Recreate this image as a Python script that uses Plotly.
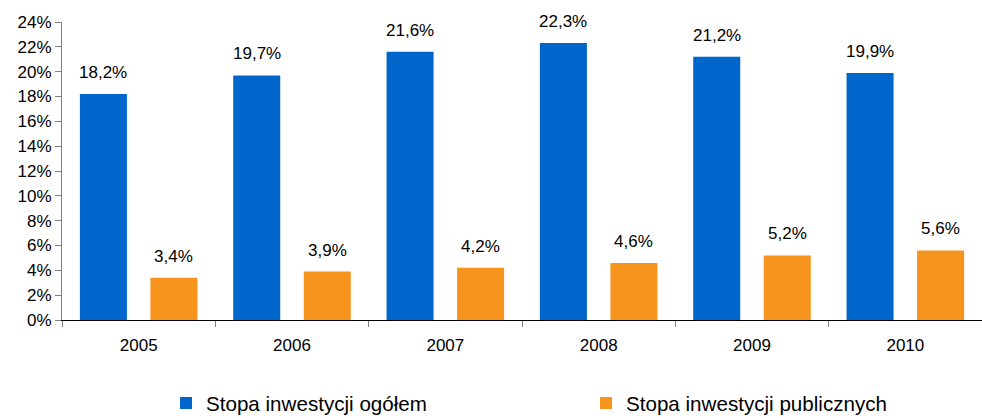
import plotly.graph_objects as go

years = ["2005", "2006", "2007", "2008", "2009", "2010"]
total_rate = [18.2, 19.7, 21.6, 22.3, 21.2, 19.9]
public_rate = [3.4, 3.9, 4.2, 4.6, 5.2, 5.6]
series_names = ["Stopa inwestycji ogółem", "Stopa inwestycji publicznych"]
y_ticks = list(range(0, 25, 2))

BLUE = "#0066CC"
ORANGE = "#F7941E"
FONT = "Liberation Sans, Arial, sans-serif"


def pct(v):
    return f"{v:.1f}".replace(".", ",") + "%"


fig = go.Figure()
fig.add_trace(go.Bar(x=years, y=total_rate, name=series_names[0], legend="legend",
                     marker=dict(color=BLUE, line=dict(width=0))))
fig.add_trace(go.Bar(x=years, y=public_rate, name=series_names[1], legend="legend2",
                     marker=dict(color=ORANGE, line=dict(width=0))))

bargap = 0.08
half_slot = (1 - bargap) / 4  # centre of each bar within its category
annotations = []
for i in range(len(years)):
    for vals, off in ((total_rate, -half_slot), (public_rate, half_slot)):
        annotations.append(dict(
            x=i + off, y=vals[i], xref="x", yref="y",
            text=pct(vals[i]), showarrow=False,
            yanchor="bottom", yshift=10,
            font=dict(family=FONT, size=17, color="#000000"),
        ))

legend_common = dict(orientation="h", xanchor="left", yref="paper",
                     y=-0.346, yanchor="bottom",
                     font=dict(family=FONT, size=20.6, color="#000000"),
                     bgcolor="rgba(0,0,0,0)")

fig.update_layout(
    width=982, height=418,
    margin=dict(l=62, r=0, t=22, b=98, autoexpand=False),
    paper_bgcolor="white", plot_bgcolor="white",
    barmode="group", bargap=bargap, bargroupgap=1 / 3,
    font=dict(family=FONT, size=17, color="#000000"),
    annotations=annotations,
    showlegend=True,
    legend=dict(x=166 / 982, xref="container", **legend_common),
    legend2=dict(x=586 / 982, xref="container", **legend_common),
)
fig.update_xaxes(
    type="category", showline=True, linecolor="#000000", linewidth=1,
    ticks="outside", tickson="boundaries", ticklen=6, tickcolor="#808080",
    ticklabelstandoff=10, showgrid=False, zeroline=False,
    tickfont=dict(family=FONT, size=17, color="#000000"),
)
fig.update_yaxes(
    range=[0, 24], tickvals=y_ticks, ticktext=[f"{t}%" for t in y_ticks],
    showline=True, linecolor="#808080", linewidth=1,
    ticks="outside", ticklen=6, tickcolor="#808080",
    showgrid=False, zeroline=False,
    tickfont=dict(family=FONT, size=17, color="#000000"),
)

fig.write_html("out.html")
